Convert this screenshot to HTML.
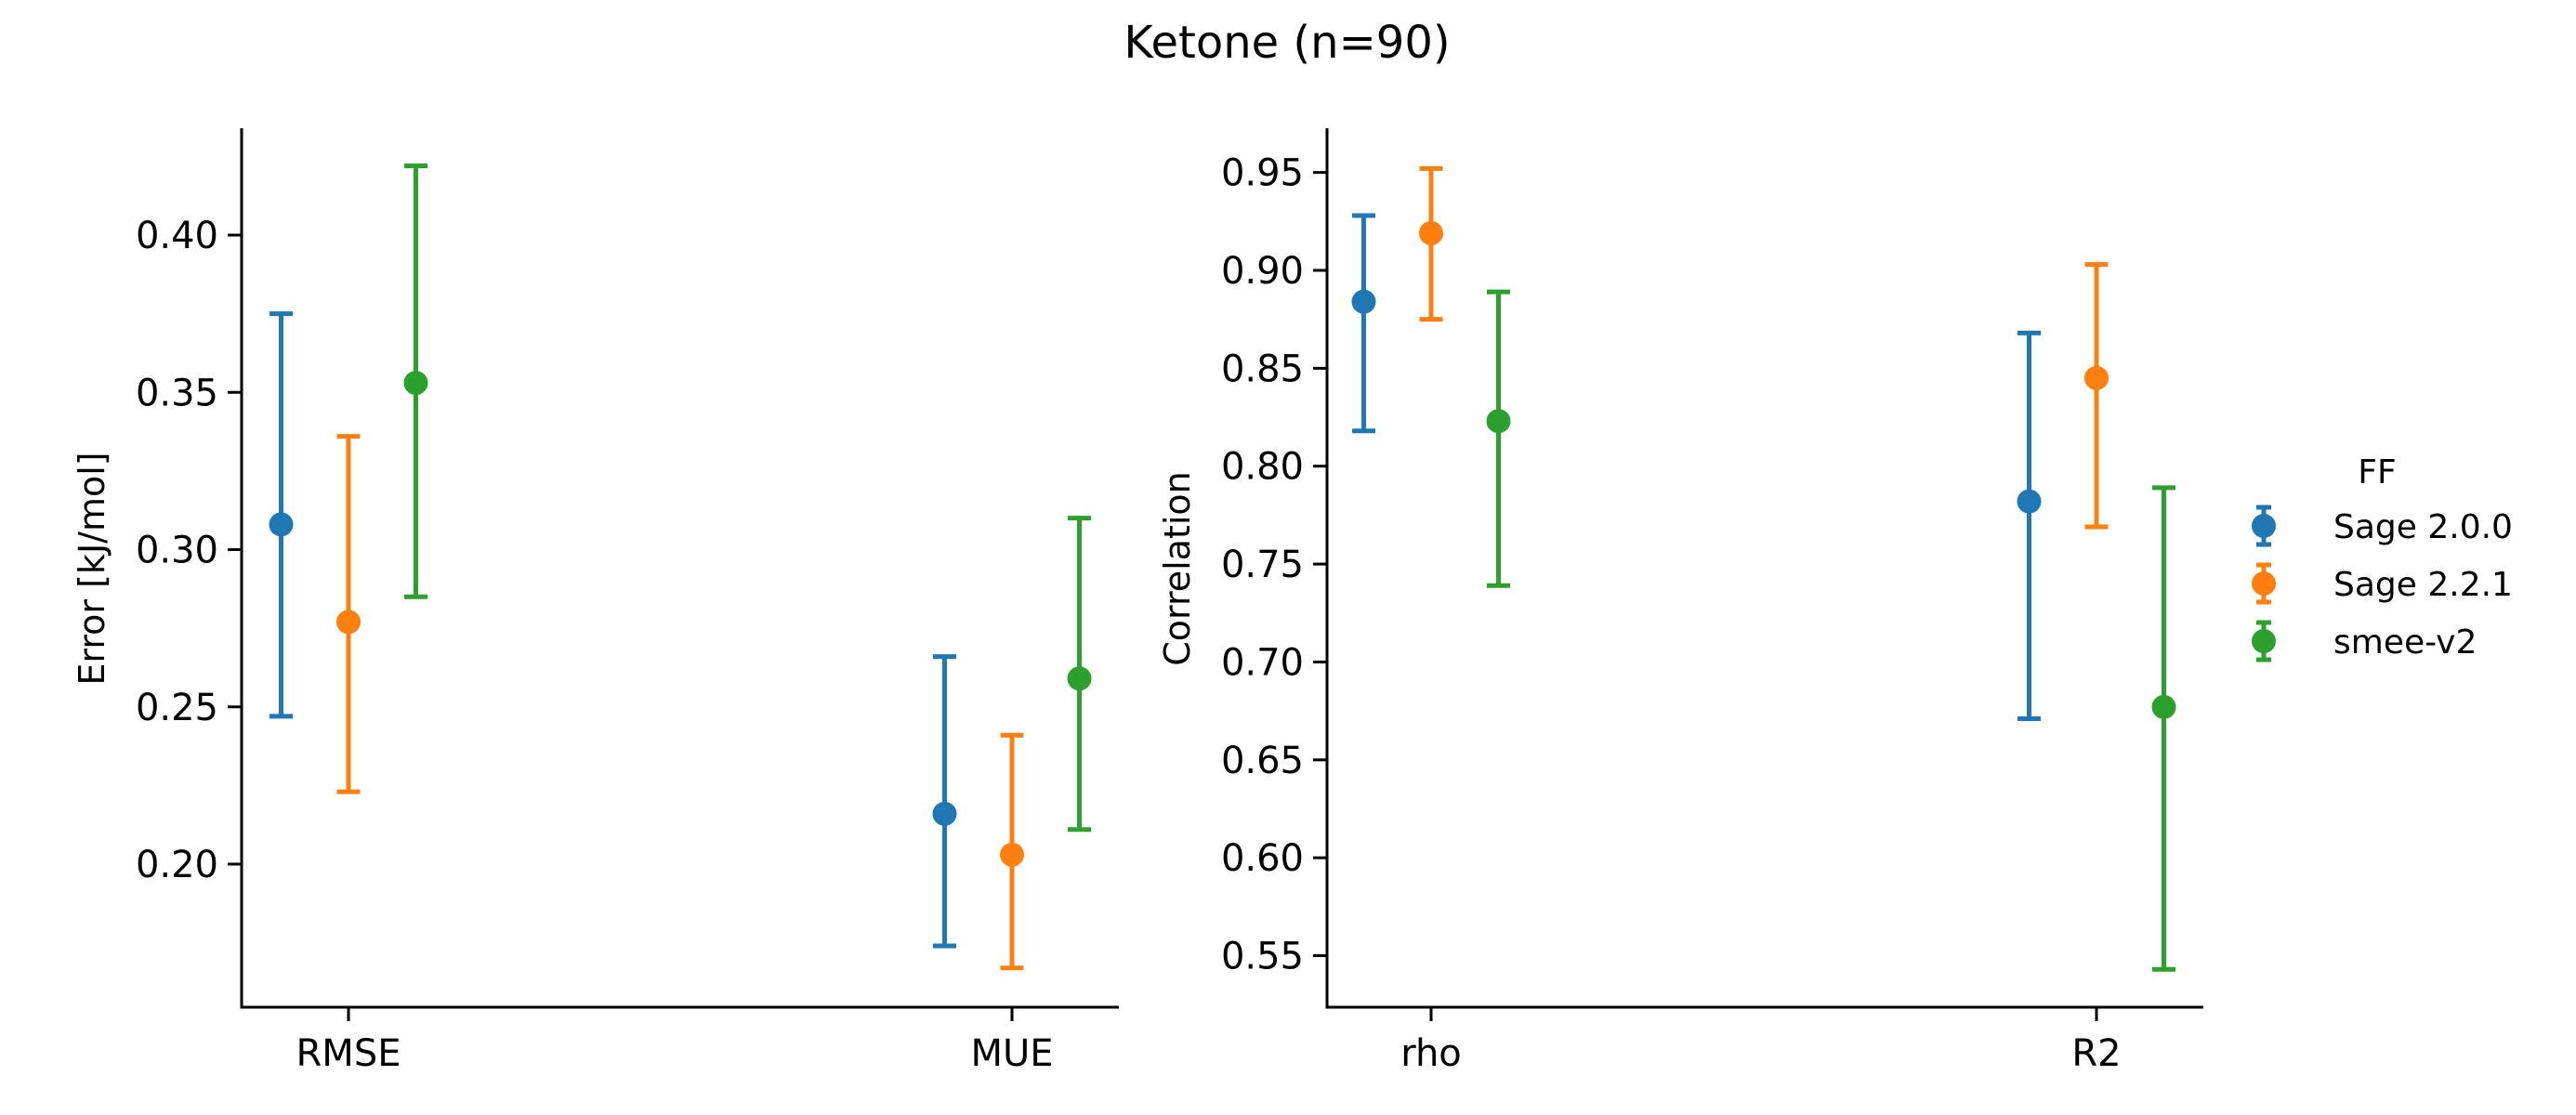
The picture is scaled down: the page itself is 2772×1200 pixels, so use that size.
<!DOCTYPE html>
<html><head><meta charset="utf-8"><style>
html,body{margin:0;padding:0;background:#fff;}
svg{display:block;font-family:"DejaVu Sans","Liberation Sans",sans-serif;}
</style></head><body>
<svg id="chart" width="2772" height="1200" viewBox="0 0 2772 1200" xmlns="http://www.w3.org/2000/svg">
<rect width="2772" height="1200" fill="#fff"/>
<text x="1385" y="62" font-size="48" text-anchor="middle">Ketone (n=90)</text>
<g id="left"></g>
<g id="right"></g>
<g id="legend"></g>
</svg>
<script>
const series = ["Sage 2.0.0", "Sage 2.2.1", "smee-v2"];
const colors = ["#1f77b4", "#ff7f0e", "#2ca02c"];
const errCategories = ["RMSE", "MUE"];
const errMean = [[0.308, 0.216], [0.277, 0.203], [0.353, 0.259]];
const errLow = [[0.247, 0.174], [0.223, 0.167], [0.285, 0.211]];
const errHigh = [[0.375, 0.266], [0.336, 0.241], [0.422, 0.310]];
const errTicks = ["0.20", "0.25", "0.30", "0.35", "0.40"];
const corCategories = ["rho", "R2"];
const corMean = [[0.884, 0.782], [0.919, 0.845], [0.823, 0.677]];
const corLow = [[0.818, 0.671], [0.875, 0.769], [0.739, 0.543]];
const corHigh = [[0.928, 0.868], [0.952, 0.903], [0.889, 0.789]];
const corTicks = ["0.55", "0.60", "0.65", "0.70", "0.75", "0.80", "0.85", "0.90", "0.95"];

const NS = "http://www.w3.org/2000/svg";
function mk(tag, attrs, parent) {
  const e = document.createElementNS(NS, tag);
  for (const k in attrs) e.setAttribute(k, attrs[k]);
  parent.appendChild(e);
  return e;
}
function panel(g, opt) {
  const {x0, x1, yTop, yBot, yA, vA, yB, vB, cats, mean, low, high, ticks, catX, ylabel, ylabelX} = opt;
  const y = v => yA + (v - vA) * (yB - yA) / (vB - vA);
  const ax = mk("path", {d: `M${x0} ${yTop}V${yBot}H${x1}`, stroke: "#000", "stroke-width": 3, fill: "none"}, g);
  
  
  ticks.forEach(t => {
    const yy = y(parseFloat(t));
    const tk = mk("line", {x1: x0 - 15, x2: x0, y1: yy, y2: yy, stroke: "#000", "stroke-width": 3}, g);
    
    
    const tl = mk("text", {x: x0 - 25, y: yy + 14, "font-size": 40, "text-anchor": "end"}, g);
    tl.textContent = t;
    
    
  });
  cats.forEach((c, i) => {
    const cx = catX[i];
    const tk = mk("line", {x1: cx, x2: cx, y1: yBot, y2: yBot + 15, stroke: "#000", "stroke-width": 3}, g);
    
    
    const tl = mk("text", {x: cx, y: 1147, "font-size": 40, "text-anchor": "middle"}, g);
    tl.textContent = c;
    
    
    series.forEach((s, j) => {
      const px = cx + (j - 1) * 72.5;
      const col = colors[j];
      const eb = mk("path", {d: `M${px} ${y(low[j][i])}V${y(high[j][i])}M${px-12.5} ${y(low[j][i])}h25M${px-12.5} ${y(high[j][i])}h25`, stroke: col, "stroke-width": 5, fill: "none"}, g);
      
      
      const pt = mk("circle", {cx: px, cy: y(mean[j][i]), r: 13, fill: col}, g);
      
      
    });
  });
  const yl = mk("text", {x: ylabelX, y: 612, "font-size": 38, "text-anchor": "middle", transform: `rotate(-90 ${ylabelX} 612)`}, g);
  yl.textContent = ylabel;
  
  
}
panel(document.getElementById("left"), {x0: 260, x1: 1204, yTop: 138, yBot: 1084, yA: 253, vA: 0.40, yB: 930, vB: 0.20,
  cats: errCategories, mean: errMean, low: errLow, high: errHigh, ticks: errTicks, catX: [375, 1089], ylabel: "Error [kJ/mol]", ylabelX: 112});
panel(document.getElementById("right"), {x0: 1428, x1: 2371, yTop: 138, yBot: 1084, yA: 185.6, vA: 0.95, yB: 501.7, vB: 0.80,
  cats: corCategories, mean: corMean, low: corLow, high: corHigh, ticks: corTicks, catX: [1540, 2256], ylabel: "Correlation", ylabelX: 1280});

const lg = document.getElementById("legend");
const ff = mk("text", {x: 2558, y: 520, "font-size": 36, "text-anchor": "middle"}, lg);
ff.textContent = "FF";


series.forEach((s, j) => {
  const yy = 566 + j * 62;
  const g = mk("g", {}, lg);
  
  
  mk("path", {d: `M2436 ${yy-20}V${yy+20}M2428 ${yy-20}h16M2428 ${yy+20}h16`, stroke: colors[j], "stroke-width": 5, fill: "none"}, g);
  mk("circle", {cx: 2436, cy: yy, r: 13, fill: colors[j]}, g);
  const t = mk("text", {x: 2511, y: yy + 13, "font-size": 36}, g);
  t.textContent = s;
});
</script>
</body></html>
